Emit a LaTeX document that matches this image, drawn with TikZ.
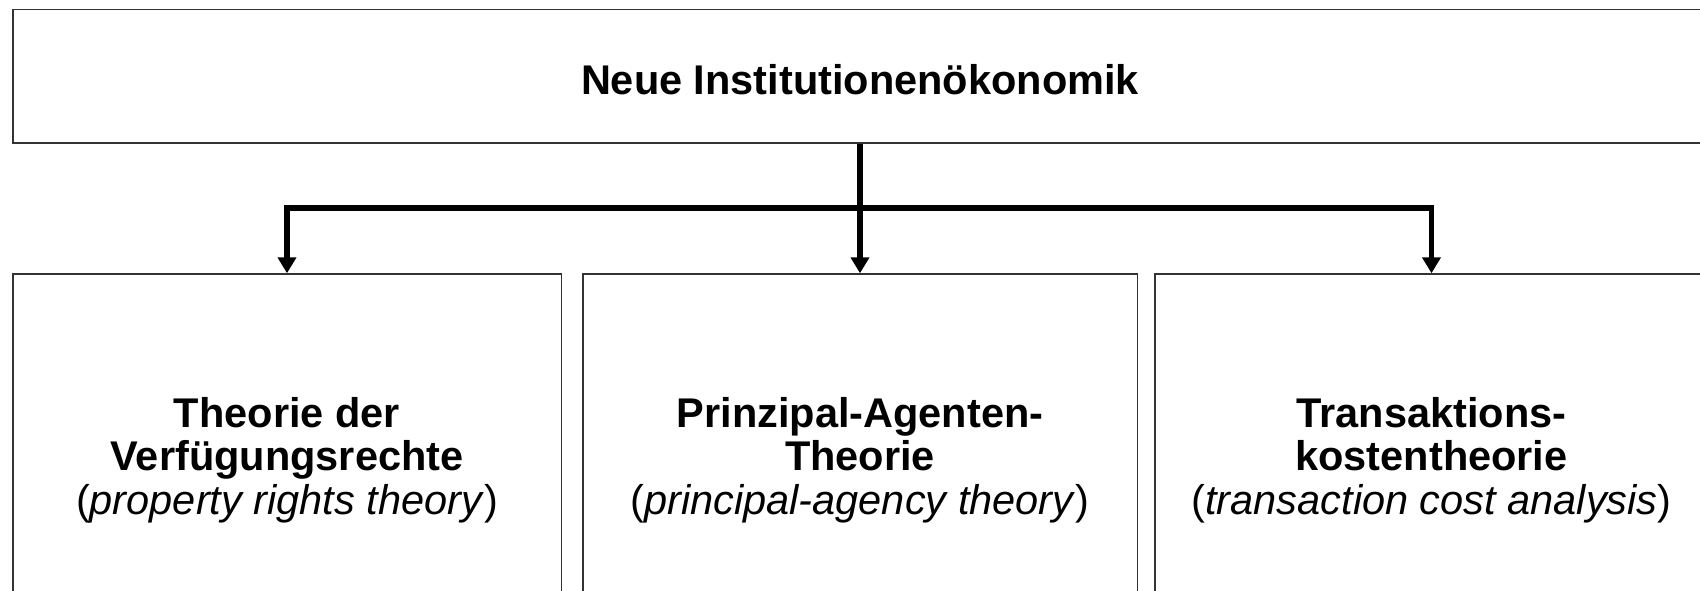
\documentclass[tikz,border=0pt]{standalone}
\usepackage{fontspec}
\setmainfont{Liberation Sans}
\usetikzlibrary{arrows.meta}
\tikzset{
  box/.style={draw=black!80, line width=1.5pt, fill=white, inner sep=0pt, anchor=north west},
  label/.style={font=\fontsize{41.5}{43.5}\selectfont, align=center, inner sep=0pt},
  conn/.style={line width=5.2pt, line join=miter, -{Triangle[width=18pt,length=16pt]}}
}
\begin{document}
\begin{tikzpicture}[x=1pt,y=1pt]
\useasboundingbox (0,0) rectangle (1700,590);
\clip (0,0) rectangle (1700,590);
% boxes
\node[box, minimum width=1760pt, minimum height=133.5pt] (top) at (12,581) {};
\node[box, minimum width=548.7pt, minimum height=340pt] (b1) at (12,316.7) {};
\node[box, minimum width=554.2pt, minimum height=340pt] (b2) at (582.4,316.7) {};
\node[box, minimum width=700pt, minimum height=340pt] (b3) at (1154,316.7) {};
% texts
\node[label] (ttl) at (860,510) {\bfseries Neue Institutionenökonomik};
\node[label] (t1) at (287,130) {\bfseries Theorie der\\\bfseries Verfügungsrechte\\(\textit{property rights theory})};
\node[label] (t2) at (860,130) {\bfseries Prinzipal-Agenten-\\\bfseries Theorie\\(\textit{principal-agency theory})};
\node[label] (t3) at (1431.5,130) {\bfseries Transaktions-\\\bfseries kostentheorie\\(\textit{transaction cost analysis})};
% connectors
\coordinate (bar) at (860,382);
\draw[conn] (top.south -| ttl.center) -- (b2.north -| ttl.center);
\draw[conn] (bar) -| (b1.north -| t1.center);
\draw[conn] (bar) -| (b3.north -| t3.center);
\end{tikzpicture}
\end{document}
